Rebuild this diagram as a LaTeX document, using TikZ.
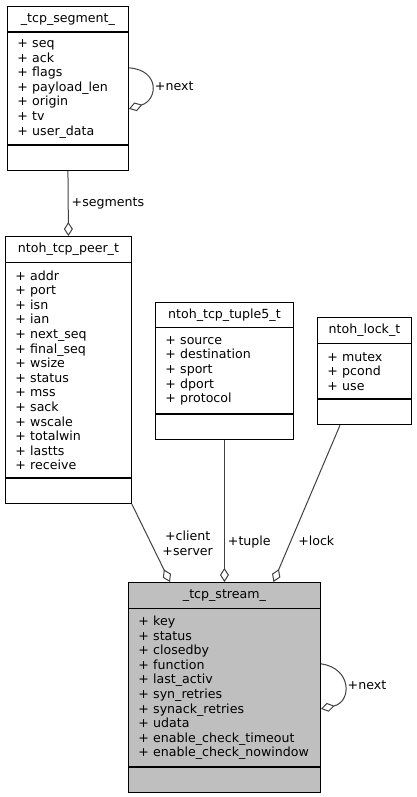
\documentclass[tikz,border=0pt]{standalone}
\usepackage{fontspec}
\setmainfont{DejaVu Sans}
\usepackage{xcolor}
\usepackage{tikz}
\usetikzlibrary{arrows.meta, positioning}

\definecolor{edgegray}{HTML}{404040}
\definecolor{streamgray}{HTML}{BFBFBF}

\begin{document}
\begin{tikzpicture}[
    x=1pt, y=-1pt,
    head/.style={rectangle, draw=black, line width=0.9pt, fill=white, inner sep=0pt, minimum height=25.5pt, font=\fontsize{12.6}{14.6}\selectfont},
    body/.style={rectangle, draw=black, line width=0.9pt, fill=white, inner xsep=10pt, inner ysep=0pt, align=left, font=\fontsize{12.6}{14.6}\selectfont},
    foot/.style={rectangle, draw=black, line width=0.9pt, fill=white, minimum height=25pt},
    edge/.style={draw=edgegray, line width=1pt, -{Diamond[open, length=14pt, width=9pt]}},
    lbl/.style={font=\fontsize{12.6}{14.6}\selectfont, inner sep=3pt, text=black}
]
    \useasboundingbox (0,0) rectangle (416,797);

    % Segment list
    \node[head, minimum width=121pt, anchor=north west] (segT) at (7,6) {\_tcp\_segment\_};
    \node[body, text width=101pt, minimum height=112pt, below=0pt of segT] (segA) {
        + seq\\
        + ack\\
        + flags\\
        + payload\_len\\
        + origin\\
        + tv\\
        + user\_data};
    \node[foot, minimum width=121pt, below=0pt of segA] (segB) {};

    % Peer
    \node[head, minimum width=126pt, anchor=north west] (peerT) at (5,236) {ntoh\_tcp\_peer\_t};
    \node[body, text width=106pt, minimum height=215pt, below=0pt of peerT] (peerA) {
        + addr\\
        + port\\
        + isn\\
        + ian\\
        + next\_seq\\
        + final\_seq\\
        + wsize\\
        + status\\
        + mss\\
        + sack\\
        + wscale\\
        + totalwin\\
        + lastts\\
        + receive};
    \node[foot, minimum width=126pt, below=0pt of peerA] (peerB) {};

    % Tuple
    \node[head, minimum width=138pt, minimum height=24.5pt, anchor=north west] (tupleT) at (155,302) {ntoh\_tcp\_tuple5\_t};
    \node[body, text width=118pt, minimum height=86pt, below=0pt of tupleT] (tupleA) {
        + source\\
        + destination\\
        + sport\\
        + dport\\
        + protocol};
    \node[foot, minimum width=138pt, below=0pt of tupleA] (tupleB) {};

    % Lock
    \node[head, minimum width=94pt, anchor=north west] (lockT) at (317,317) {ntoh\_lock\_t};
    \node[body, text width=74pt, minimum height=55pt, below=0pt of lockT] (lockA) {
        + mutex\\
        + pcond\\
        + use};
    \node[foot, minimum width=94pt, below=0pt of lockA] (lockB) {};

    % Stream
    \node[head, fill=streamgray, minimum width=192pt, anchor=north west] (streamT) at (128,582) {\_tcp\_stream\_};
    \node[body, fill=streamgray, text width=172pt, minimum height=158pt, below=0pt of streamT] (streamA) {
        + key\\
        + status\\
        + closedby\\
        + function\\
        + last\_activ\\
        + syn\_retries\\
        + synack\_retries\\
        + udata\\
        + enable\_check\_timeout\\
        + enable\_check\_nowindow};
    \node[foot, fill=streamgray, minimum width=192pt, below=0pt of streamA] (streamB) {};

    % Connectors
    \draw[edge] ([yshift=21pt]segA.east) .. controls (160,70) and (158,100) .. ([yshift=-20pt]segA.east) node[lbl, pos=0.5, right] {+next};
    \draw[edge] (segB.south) -- (peerT.north) node[lbl, midway, right] {+segments};
    \draw[edge] (peerB.south east) -- ([xshift=42pt]streamT.north west) node[lbl, midway, anchor=west, xshift=8pt, align=center] {+client\\+server};
    \draw[edge] (tupleB.south) -- (streamT.north) node[lbl, pos=0.72, right] {+tuple};
    \draw[edge] ([xshift=23pt]lockB.south west) -- ([xshift=49pt]streamT.north) node[lbl, pos=0.74, right, xshift=4pt] {+lock};
    \draw[edge] ([yshift=24pt]streamA.east) .. controls (352,668) and (352,702) .. ([yshift=-21pt]streamA.east) node[lbl, pos=0.5, right] {+next};
\end{tikzpicture}
\end{document}
